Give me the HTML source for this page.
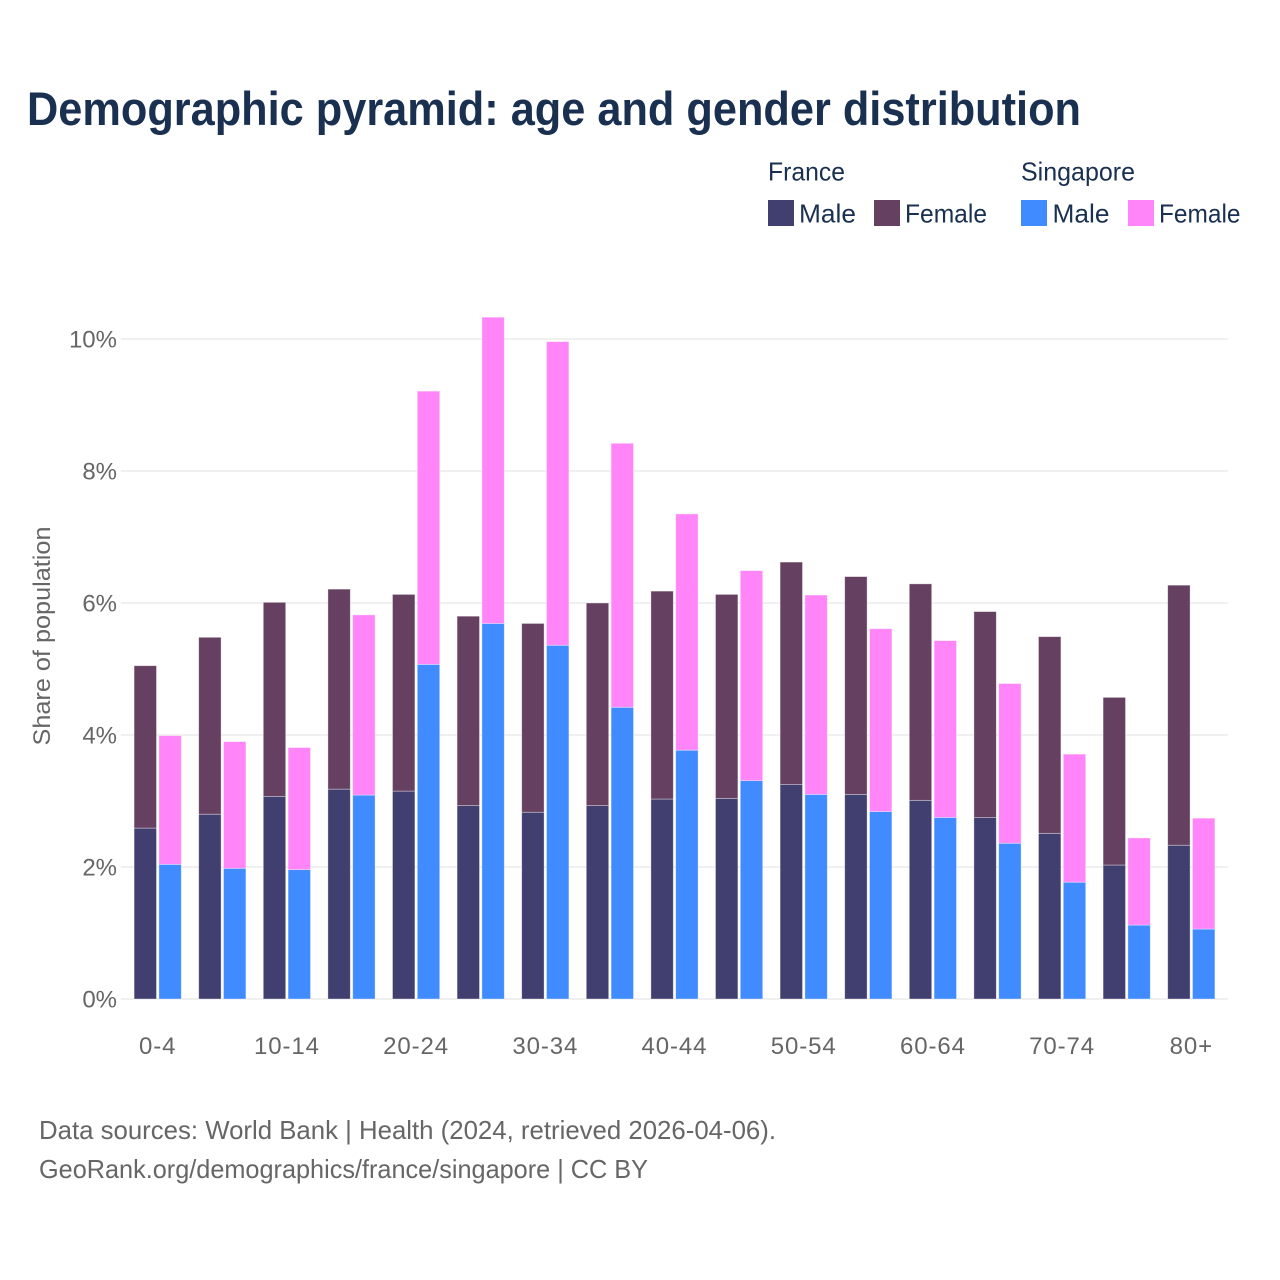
<!DOCTYPE html>
<html lang="en">
<head>
<meta charset="utf-8">
<title>Demographic pyramid: age and gender distribution</title>
<style>
html,body{margin:0;padding:0;background:#fff;}
svg{display:block;font-family:"Liberation Sans",Arial,sans-serif;}
</style>
</head>
<body>
<svg id="chart" xmlns="http://www.w3.org/2000/svg" width="1280" height="1280" viewBox="0 0 1280 1280">
  <rect x="0" y="0" width="1280" height="1280" fill="#ffffff"/>
  <text x="27" y="125" font-size="47" font-weight="700" fill="#1a3050" textLength="1054" lengthAdjust="spacingAndGlyphs">Demographic pyramid: age and gender distribution</text>

  <g font-size="26" fill="#1a3050">
    <text x="768" y="180.5" textLength="77" lengthAdjust="spacingAndGlyphs">France</text>
    <text x="1021" y="180.5" textLength="114" lengthAdjust="spacingAndGlyphs">Singapore</text>
    <rect x="768" y="200" width="26" height="26" fill="#413e70"/>
    <text x="799" y="222.5" textLength="57" lengthAdjust="spacingAndGlyphs">Male</text>
    <rect x="874" y="200" width="26" height="26" fill="#664060"/>
    <text x="905" y="222.5" textLength="82" lengthAdjust="spacingAndGlyphs">Female</text>
    <rect x="1021" y="200" width="26" height="26" fill="#3f8bff"/>
    <text x="1052.5" y="222.5" textLength="57" lengthAdjust="spacingAndGlyphs">Male</text>
    <rect x="1128" y="200" width="26" height="26" fill="#ff85f9"/>
    <text x="1159" y="222.5" textLength="81.5" lengthAdjust="spacingAndGlyphs">Female</text>
  </g>

  <g id="grid"></g>
  <g id="bars"></g>
  <g id="yticks"></g>
  <g id="xticks"></g>

  <text transform="translate(50,636) rotate(-90)" text-anchor="middle" font-size="24" fill="#666666" textLength="219" lengthAdjust="spacingAndGlyphs">Share of population</text>

  <text x="39" y="1139" font-size="26" fill="#666666" textLength="737" lengthAdjust="spacingAndGlyphs">Data sources: World Bank | Health (2024, retrieved 2026-04-06).</text>
  <text x="39" y="1178" font-size="26" fill="#666666" textLength="609" lengthAdjust="spacingAndGlyphs">GeoRank.org/demographics/france/singapore | CC BY</text>
</svg>
<script>
const categories = ['0-4','5-9','10-14','15-19','20-24','25-29','30-34','35-39','40-44','45-49','50-54','55-59','60-64','65-69','70-74','75-79','80+'];
const franceMale = [2.59,2.80,3.07,3.18,3.15,2.93,2.83,2.93,3.03,3.04,3.25,3.10,3.01,2.75,2.51,2.03,2.33];
const franceFemale = [2.46,2.68,2.94,3.03,2.98,2.87,2.86,3.07,3.15,3.09,3.37,3.30,3.28,3.12,2.98,2.54,3.94];
const singaporeMale = [2.04,1.98,1.96,3.09,5.07,5.69,5.36,4.42,3.77,3.31,3.10,2.84,2.75,2.36,1.77,1.12,1.06];
const singaporeFemale = [1.95,1.92,1.85,2.73,4.14,4.64,4.60,4.00,3.58,3.18,3.02,2.77,2.68,2.42,1.94,1.32,1.68];
const yTickValues = [0,2,4,6,8,10];
const xTickLabels = ['0-4','10-14','20-24','30-34','40-44','50-54','60-64','70-74','80+'];

const NS = 'http://www.w3.org/2000/svg';
const plotLeft = 121, plotRight = 1228, plotBottom = 999, pxPerUnit = 66;
const firstCenter = 157.7, groupStep = 64.6, barWidth = 22.4, barOffset = 12.4;

function yScale(v){ return plotBottom - v * pxPerUnit; }
function xScale(i){ return firstCenter + i * groupStep; }

const gridLayer = document.getElementById('grid');
const barLayer = document.getElementById('bars');
const yLayer = document.getElementById('yticks');
const xLayer = document.getElementById('xticks');

yTickValues.forEach(function(v){
  const line = document.createElementNS(NS,'line');
  
  
  line.setAttribute('x1', plotLeft);
  line.setAttribute('x2', plotRight);
  line.setAttribute('y1', yScale(v));
  line.setAttribute('y2', yScale(v));
  line.setAttribute('stroke', '#e8e8e8');
  line.setAttribute('stroke-width', '1.2');
  gridLayer.appendChild(line);

  const label = document.createElementNS(NS,'text');
  
  
  label.setAttribute('x', 117);
  label.setAttribute('y', yScale(v) + 8.5);
  label.setAttribute('text-anchor', 'end');
  label.setAttribute('font-size', '24');
  label.setAttribute('fill', '#666666');
  label.textContent = v + '%';
  yLayer.appendChild(label);
});

function drawBar(x, base, value, fill){
  const top = yScale(base + value);
  const bottom = yScale(base);
  const r = document.createElementNS(NS,'rect');
  
  
  r.setAttribute('x', x - barWidth / 2);
  r.setAttribute('y', top);
  r.setAttribute('width', barWidth);
  r.setAttribute('height', bottom - top);
  r.setAttribute('fill', fill);
  r.setAttribute('stroke', '#ffffff');
  r.setAttribute('stroke-opacity', '0.45');
  r.setAttribute('stroke-width', '0.8');
  barLayer.appendChild(r);
}

categories.forEach(function(cat, i){
  const c = xScale(i);
  drawBar(c - barOffset, 0, franceMale[i], '#413e70');
  drawBar(c - barOffset, franceMale[i], franceFemale[i], '#664060');
  drawBar(c + barOffset, 0, singaporeMale[i], '#3f8bff');
  drawBar(c + barOffset, singaporeMale[i], singaporeFemale[i], '#ff85f9');
});

xTickLabels.forEach(function(name){
  const label = document.createElementNS(NS,'text');
  
  
  label.setAttribute('x', xScale(categories.indexOf(name)));
  label.setAttribute('y', 1054);
  label.setAttribute('text-anchor', 'middle');
  label.setAttribute('font-size', '24');
  label.setAttribute('letter-spacing', '0.9');
  label.setAttribute('fill', '#666666');
  label.textContent = name;
  xLayer.appendChild(label);
});
</script>
</body>
</html>
